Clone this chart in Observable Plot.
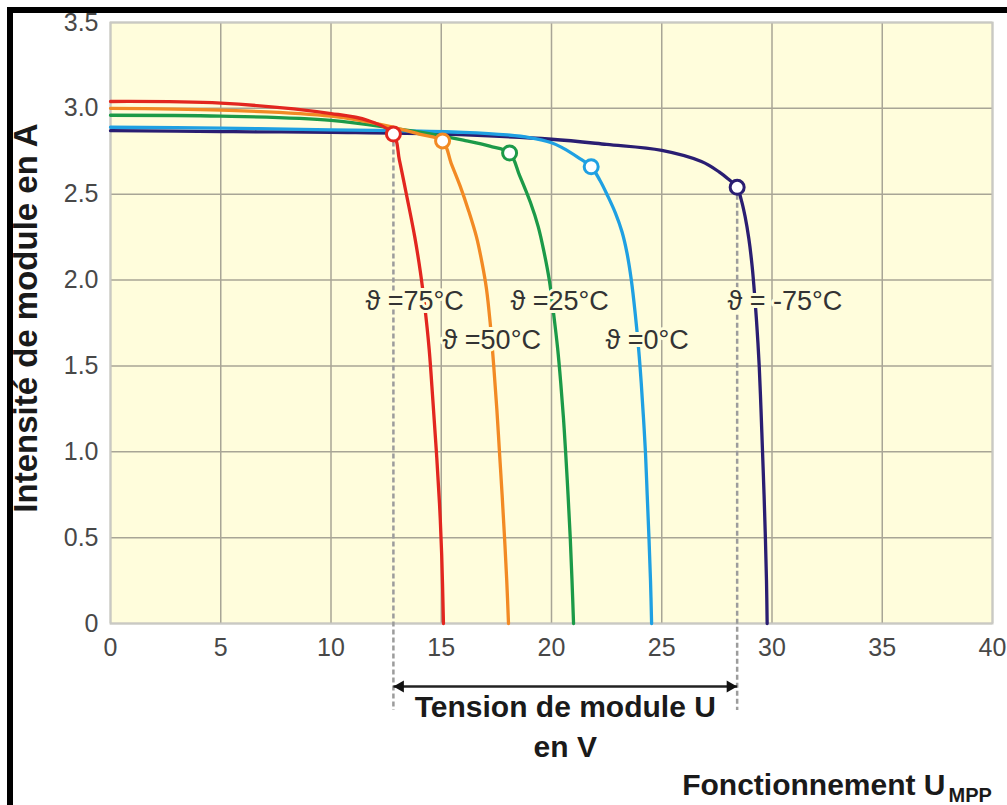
<!DOCTYPE html>
<html><head><meta charset="utf-8">
<script src="https://cdn.jsdelivr.net/npm/d3@7"></script>
<script src="https://cdn.jsdelivr.net/npm/@observablehq/plot@0.6"></script>
<style>
body{margin:0;background:#fff;}
#wrap{position:relative;width:1007px;height:805px;overflow:hidden;}
#border{position:absolute;left:7px;top:7px;right:-10px;bottom:-10px;border-top:6px solid #000;border-left:6px solid #000;pointer-events:none;}
</style></head><body><div id="wrap"><div id="border"></div></div>
<script>
// Series: module temperature
const temps = ["75°C", "50°C", "25°C", "0°C", "-75°C"];
const colors = ["#e2261f", "#f28a24", "#1c9a48", "#1fa0e2", "#2a1e72"];
const labels = ["ϑ =75°C", "ϑ =50°C", "ϑ =25°C", "ϑ =0°C", "ϑ = -75°C"];

// I-V curves (U in V, I in A)
const u75 = [0, 5, 10, 11.65, 12.83, 13.1, 13.45, 13.8, 14.05, 14.25, 14.45, 14.62, 14.78, 14.92, 15.02, 15.1];
const i75 = [3.04, 3.03, 2.97, 2.93, 2.85, 2.70, 2.48, 2.25, 2.05, 1.85, 1.6, 1.3, 1.0, 0.7, 0.4, 0];

const u50 = [0, 5, 10, 12.5, 14, 15.06, 15.45, 15.85, 16.25, 16.6, 16.85, 17.05, 17.22, 17.38, 17.52, 17.64, 17.76, 17.87, 17.97, 18.05];
const i50 = [3.0, 2.99, 2.955, 2.9, 2.85, 2.81, 2.68, 2.55, 2.40, 2.25, 2.1, 1.95, 1.75, 1.5, 1.25, 1.0, 0.75, 0.5, 0.25, 0];

const u25 = [0, 5, 10, 13, 15, 16, 17.2, 18.1, 18.55, 19.05, 19.4, 19.65, 19.9, 20.1, 20.28, 20.42, 20.54, 20.64, 20.75, 20.85, 20.93, 21.0];
const i25 = [2.96, 2.955, 2.93, 2.88, 2.84, 2.815, 2.78, 2.74, 2.61, 2.45, 2.31, 2.17, 2.0, 1.8, 1.6, 1.4, 1.2, 1.0, 0.75, 0.5, 0.25, 0];

const u0 = [0, 5, 10, 13, 16, 18, 19, 20, 20.5, 21.2, 21.8, 22.2, 22.55, 22.9, 23.2, 23.42, 23.62, 23.8, 23.95, 24.07, 24.17, 24.26, 24.34, 24.42, 24.49, 24.54];
const i0 = [2.89, 2.885, 2.875, 2.87, 2.86, 2.845, 2.83, 2.8, 2.77, 2.715, 2.66, 2.58, 2.49, 2.39, 2.28, 2.16, 2.0, 1.8, 1.6, 1.4, 1.2, 1.0, 0.75, 0.5, 0.25, 0];

const um75 = [0, 5, 10, 15, 20, 22.5, 25, 26.8, 27.6, 28.0, 28.42, 28.6, 28.78, 28.95, 29.1, 29.22, 29.33, 29.42, 29.5, 29.57, 29.64, 29.7, 29.75, 29.78];
const im75 = [2.87, 2.865, 2.86, 2.85, 2.82, 2.79, 2.755, 2.69, 2.63, 2.59, 2.54, 2.47, 2.37, 2.24, 2.08, 1.9, 1.7, 1.5, 1.25, 1.0, 0.75, 0.5, 0.25, 0];

// Maximum power points
const mppU = [12.83, 15.06, 18.1, 21.8, 28.42];
const mppI = [2.85, 2.81, 2.74, 2.66, 2.54];

// Label anchor positions (start of text)
const labelU = [11.56, 15.06, 18.14, 22.45, 27.98];
const labelI = [1.875, 1.648, 1.875, 1.648, 1.875];

const xTicks = [0, 5, 10, 15, 20, 25, 30, 35, 40];
const yTicks = [0, 0.5, 1.0, 1.5, 2.0, 2.5, 3.0, 3.5];

const yLabel = "Intensité de module en A";
const xLabel1 = "Tension de module U";
const xLabel2 = "en V";
const noteMain = "Fonctionnement U";
const noteSub = "MPP";

const seriesU = [u75, u50, u25, u0, um75];
const seriesI = [i75, i50, i25, i0, im75];

const bg = "#fffddc";
const font = "'Liberation Sans', Arial, Helvetica, sans-serif";

const order = [4, 3, 2, 1, 0];
const lineMarks = order.map(k => Plot.line(d3.range(seriesU[k].length), {
  x: j => seriesU[k][j], y: j => seriesI[k][j],
  stroke: colors[k], strokeWidth: 3.3, curve: "catmull-rom"
}));
const dotMarks = order.map(k => Plot.dot([k], {
  x: d => mppU[d], y: d => mppI[d], r: 7, fill: "white", stroke: colors[k], strokeWidth: 3
}));

const midU = (mppU[0] + mppU[4]) / 2;
const arrowY = -0.367;
const dashEnd = -0.507;

const chart = Plot.plot({
  width: 1007, height: 805,
  marginLeft: 110, marginRight: 15, marginTop: 22, marginBottom: 182,
  style: {fontFamily: font, background: "transparent", color: "#484848"},
  x: {domain: [0, 40]},
  y: {domain: [0, 3.5]},
  marks: [
    Plot.frame({fill: bg, stroke: null}),
    Plot.gridX(xTicks, {stroke: "#a8a596", strokeOpacity: 1, strokeWidth: 1.5}),
    Plot.gridY(yTicks, {stroke: "#a8a596", strokeOpacity: 1, strokeWidth: 1.5}),
    Plot.frame({stroke: "#c9c9c4", strokeWidth: 2}),
    Plot.axisX({ticks: xTicks, tickSize: 0, tickPadding: 15, fontSize: 25, label: null}),
    Plot.axisY({ticks: yTicks, tickSize: 0, tickPadding: 12, fontSize: 25, label: null,
      tickFormat: d => d === 0 ? "0" : d.toFixed(1)}),
    Plot.ruleX([0, 4], {x: k => mppU[k], y1: k => mppI[k], y2: dashEnd,
      stroke: "#9c9c9c", strokeWidth: 2.5, strokeDasharray: "5,3"}),
    ...lineMarks,
    Plot.text(d3.range(5), {x: k => labelU[k], y: k => labelI[k], text: k => labels[k],
      textAnchor: "start", fontSize: 27, fill: "#333", stroke: bg, strokeWidth: 6}),
    ...dotMarks,
    Plot.link([0], {x1: mppU[0], x2: mppU[4], y1: arrowY, y2: arrowY, stroke: "#222", strokeWidth: 2.5}),
    Plot.dot([0], {x: mppU[0], y: arrowY, symbol: "triangle", r: 4.5, rotate: -90, dx: 7, fill: "#111"}),
    Plot.dot([0], {x: mppU[4], y: arrowY, symbol: "triangle", r: 4.5, rotate: 90, dx: -7, fill: "#111"}),
    Plot.text([xLabel1], {x: midU, y: -0.489, fontSize: 30, fontWeight: "bold", fill: "#1a1a1a"}),
    Plot.text([xLabel2], {x: midU, y: -0.722, fontSize: 30, fontWeight: "bold", fill: "#1a1a1a"}),
    Plot.text([noteMain], {x: 37.87, y: -0.943, textAnchor: "end", fontSize: 30, fontWeight: "bold", fill: "#1a1a1a"}),
    Plot.text([noteSub], {x: 37.87, y: -0.943, dx: 3, dy: 10, textAnchor: "start", fontSize: 20, fontWeight: "bold", fill: "#1a1a1a"}),
    Plot.text([yLabel], {frameAnchor: "left", textAnchor: "middle", rotate: -90, dx: -84, dy: -5, fontSize: 33, fontWeight: "bold", fill: "#1a1a1a"})
  ]
});
document.getElementById("wrap").prepend(chart);
chart.style.position = "absolute";
chart.style.left = "0";
chart.style.top = "0";
</script>
</body></html>
